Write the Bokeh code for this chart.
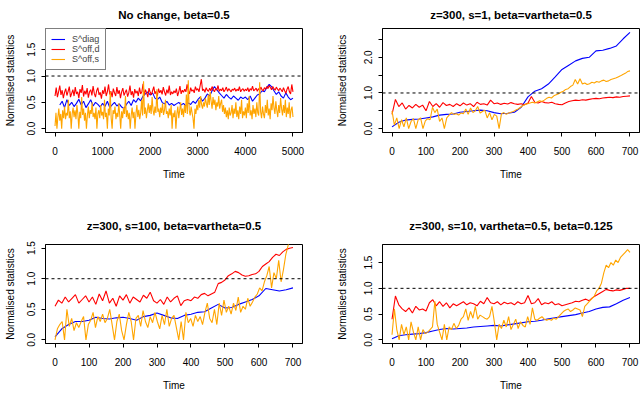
import numpy as np
from bokeh.plotting import figure
from bokeh.models import Span, Legend, LegendItem, FixedTicker, Range1d
from bokeh.layouts import gridplot
from bokeh.embed import file_html
from bokeh.resources import INLINE

FONT = "Liberation Sans"
BLUE, RED, ORANGE = "#0000FF", "#FF0000", "#FFA500"

legend_labels = ["S^diag", "S^off,d", "S^off,s"]
titles = ["No change, beta=0.5",
          "z=300, s=1, beta=vartheta=0.5",
          "z=300, s=100, beta=vartheta=0.5",
          "z=300, s=10, vartheta=0.5, beta=0.125"]

# ---------------- Panel 1 (time 0..5000) ----------------
p1_red_step, p1_red_start = 25, 0
p1_red = [0.62,0.78,0.60,0.70,0.82,0.64,0.73,0.58,0.69,0.76,
          0.63,0.71,0.80,0.60,0.67,0.74,0.62,0.79,0.66,0.70,
          0.58,0.75,0.68,0.83,0.61,0.72,0.65,0.77,0.59,0.70,
          0.74,0.63,0.81,0.67,0.60,0.72,0.78,0.64,0.69,0.57,
          0.73,0.66,0.80,0.62,0.70,0.84,0.65,0.71,0.60,0.76,
          0.68,0.62,0.79,0.66,0.73,0.58,0.70,0.77,0.63,0.69,
          0.74,0.61,0.68,0.82,0.64,0.71,0.59,0.75,0.67,0.72,
          0.62,0.78,0.66,0.70,0.85,0.63,0.74,0.68,0.60,0.77,
          0.69,0.64,0.72,0.80,0.66,0.71,0.62,0.76,0.68,0.73,
          0.65,0.79,0.70,0.63,0.74,0.67,0.82,0.64,0.70,0.66,
          0.72,0.68,0.76,0.62,0.70,0.81,0.66,0.73,0.69,0.75,
          0.70,0.84,0.72,0.66,0.78,0.71,0.74,0.68,0.80,0.73,
          0.76,0.70,0.82,0.94,0.72,0.75,0.69,0.78,0.73,0.71,
          0.77,0.72,0.80,0.74,0.70,0.76,0.73,0.82,0.71,0.75,
          0.72,0.78,0.70,0.74,0.79,0.71,0.76,0.73,0.70,0.75,
          0.73,0.77,0.71,0.75,0.72,0.80,0.70,0.74,0.76,0.71,
          0.75,0.72,0.78,0.70,0.76,0.73,0.81,0.72,0.74,0.77,
          0.71,0.76,0.73,0.79,0.74,0.72,0.78,0.75,0.80,0.76,
          0.82,0.78,0.74,0.80,0.76,0.73,0.79,0.75,0.72,0.77,
          0.74,0.70,0.78,0.72,0.67,0.75,0.80,0.70,0.66,0.84,
          0.70]
p1_blue_step, p1_blue_start = 50, 100
p1_blue = [0.45,0.52,0.40,0.55,0.44,0.50,0.42,0.48,
           0.56,0.45,0.52,0.40,0.47,0.55,0.43,0.50,0.46,0.41,
           0.48,0.42,0.52,0.40,0.45,0.50,0.43,0.47,0.41,0.38,
           0.46,0.52,0.44,0.55,0.50,0.58,0.53,0.62,0.66,0.70,
           0.64,0.68,0.58,0.55,0.60,0.50,0.47,0.52,0.45,0.48,
           0.44,0.47,0.50,0.45,0.48,0.43,0.49,0.46,0.52,0.48,
           0.55,0.60,0.52,0.58,0.66,0.62,0.72,0.80,0.74,0.68,
           0.63,0.58,0.65,0.60,0.56,0.62,0.58,0.54,0.60,0.57,
           0.60,0.55,0.62,0.52,0.58,0.64,0.66,0.72,0.70,0.78,
           0.84,0.80,0.72,0.65,0.70,0.62,0.58,0.68,0.60,0.55,
           0.58]
p1_orange_step, p1_orange_start = 20, 0
p1_orange = [0.05,0.30,0.00,0.22,0.38,0.15,0.28,0.00,0.35,0.20,
             0.42,0.18,0.30,0.25,0.55,0.20,0.33,0.00,0.28,0.40,
             0.22,0.35,0.18,0.45,0.28,0.00,0.32,0.20,0.60,0.26,
             0.38,0.15,0.30,0.00,0.25,0.42,0.20,0.35,0.28,0.50,
             0.22,0.30,0.18,0.40,0.00,0.28,0.35,0.20,0.45,0.25,
             0.32,0.18,0.55,0.22,0.30,0.00,0.38,0.25,0.70,0.20,
             0.00,0.35,0.28,0.42,0.18,0.30,0.22,0.48,0.26,0.00,
             0.33,0.20,0.40,0.28,0.62,0.22,0.35,0.18,0.30,0.00,
             0.25,0.40,0.20,0.32,0.00,0.28,0.45,0.22,0.36,0.18,
             0.30,0.55,0.25,0.90,0.28,0.40,0.20,0.35,0.48,0.30,
             0.45,0.28,0.60,0.35,0.25,0.42,0.30,0.75,0.32,0.38,
             0.22,0.40,0.30,0.48,0.26,0.35,0.55,0.28,0.33,0.20,
             0.38,0.25,0.45,0.00,0.30,0.22,0.35,0.00,0.28,0.42,
             0.20,0.35,0.50,0.26,0.38,0.22,0.45,0.30,0.65,0.28,
             0.92,0.35,0.25,0.42,0.30,0.20,0.00,0.38,0.28,0.45,
             0.35,0.55,0.40,0.62,0.45,0.38,0.50,0.42,0.58,0.48,
             0.40,0.65,0.45,0.70,0.52,0.38,0.60,0.45,0.55,0.35,
             0.50,0.42,0.62,0.38,0.48,0.55,0.32,0.45,0.28,0.40,
             0.22,0.35,0.18,0.40,0.25,0.30,0.45,0.20,0.38,0.28,
             0.50,0.22,0.35,0.18,0.42,0.28,0.55,0.20,0.33,0.25,
             0.40,0.20,0.48,0.30,0.62,0.25,0.35,0.18,0.45,0.28,
             0.38,0.22,0.50,0.30,0.25,0.88,0.32,0.20,0.42,0.28,
             0.20,0.45,0.30,0.55,0.25,0.38,0.18,0.48,0.35,0.62,
             0.40,0.28,0.52,0.35,0.22,0.45,0.30,0.58,0.38,0.25,
             0.45,0.30,0.55,0.22,0.40,0.28,0.50,0.20,0.35,0.42,
             0.22]

# ---------------- Panel 2 (time 0..700) ----------------
p2_red = [0.40,0.82,0.62,0.72,0.55,0.65,0.58,0.68,0.60,0.66,
          0.50,0.76,0.62,0.70,0.60,0.73,0.65,0.68,0.62,0.70,
          0.64,0.72,0.66,0.70,0.62,0.74,0.68,0.70,0.66,0.80,
          0.70,0.72,0.68,0.71,0.69,0.73,0.70,0.68,0.70,0.67,
          0.72,0.90,0.74,0.72,0.76,0.73,0.72,0.74,0.70,0.68,
          0.67,0.72,0.76,0.78,0.80,0.79,0.81,0.80,0.82,0.84,
          0.85,0.84,0.86,0.87,0.88,0.87,0.89,0.88,0.90,0.91,
          0.92]
p2_blue = [0.05,0.18,0.24,0.26,0.27,0.30,0.33,0.38,0.40,0.41,
           0.46,0.48,0.50,0.52,0.50,0.45,0.42,0.43,0.46,0.60,
           0.89,1.05,1.12,1.25,1.45,1.66,1.78,1.90,1.97,2.00,
           2.18,2.20,2.25,2.32,2.52,2.70]
p2_orange = [0.50,0.10,0.30,0.00,0.25,0.05,0.30,0.00,0.20,0.28,
             0.00,0.25,0.30,0.00,0.22,0.28,0.25,0.60,0.45,0.55,
             0.20,0.30,0.00,0.30,0.38,0.45,0.40,0.42,0.38,0.44,
             0.42,0.55,0.40,0.58,0.45,0.50,0.62,0.44,0.48,0.52,
             0.30,0.45,0.25,0.40,0.35,0.00,0.42,0.45,0.40,0.44,
             0.46,0.48,0.52,0.55,0.60,0.65,0.68,0.70,0.72,0.74,
             0.72,0.75,0.78,0.76,0.80,0.85,0.88,0.86,0.92,0.95,
             0.98,1.02,1.05,1.10,1.12,1.18,1.22,1.38,1.25,1.40,
             1.25,1.28,1.24,1.26,1.30,1.28,1.32,1.30,1.34,1.36,
             1.32,1.34,1.38,1.40,1.42,1.45,1.48,1.52,1.55,1.60,
             1.62]

# ---------------- Panel 3 ----------------
p3_red = [0.55,0.65,0.60,0.70,0.62,0.68,0.74,0.60,0.66,0.72,
          0.62,0.70,0.58,0.75,0.64,0.80,0.60,0.68,0.55,0.72,
          0.65,0.74,0.60,0.70,0.66,0.62,0.73,0.68,0.78,0.64,
          0.60,0.66,0.58,0.70,0.62,0.68,0.72,0.56,0.64,0.66,
          0.64,0.70,0.68,0.74,0.76,0.72,0.75,0.78,0.92,0.94,
          0.98,1.05,1.08,1.12,1.10,1.06,1.04,1.05,1.07,1.08,
          1.12,1.20,1.24,1.28,1.35,1.40,1.38,1.44,1.48,1.50,
          1.51]
p3_blue = [0.05,0.18,0.25,0.30,0.30,0.32,0.37,0.35,0.34,0.36,
           0.37,0.35,0.32,0.38,0.40,0.44,0.40,0.36,0.35,0.40,
           0.42,0.45,0.46,0.52,0.58,0.52,0.53,0.58,0.62,0.66,
           0.72,0.84,0.82,0.80,0.82,0.85]
p3_orange = [0.00,0.18,0.25,0.30,0.00,0.50,0.22,0.35,0.15,0.28,
             0.20,0.30,0.38,0.00,0.25,0.32,0.45,0.20,0.38,0.30,
             0.42,0.28,0.35,0.50,0.25,0.00,0.30,0.42,0.15,0.00,
             0.25,0.45,0.30,0.00,0.35,0.40,0.22,0.48,0.30,0.20,
             0.38,0.28,0.45,0.30,0.18,0.40,0.25,0.50,0.22,0.35,
             0.40,0.20,0.00,0.30,0.00,0.45,0.28,0.35,0.22,0.40,
             0.30,0.38,0.25,0.45,0.60,0.35,0.28,0.50,0.25,0.60,
             0.40,0.65,0.45,0.55,0.42,0.60,0.48,0.70,0.45,0.55,
             0.50,0.68,0.55,0.62,0.70,0.75,0.85,0.80,0.95,1.05,
             1.20,0.85,1.10,1.00,1.30,0.95,1.15,1.40,1.55,1.70,
             1.75]

# ---------------- Panel 4 ----------------
p4_red = [0.40,0.85,0.68,0.60,0.55,0.62,0.52,0.65,0.58,0.60,
          0.56,0.72,0.78,0.66,0.74,0.65,0.72,0.62,0.70,0.66,
          0.70,0.74,0.68,0.72,0.70,0.66,0.75,0.70,0.82,0.72,
          0.70,0.74,0.68,0.73,0.70,0.72,0.68,0.74,0.70,0.72,
          0.86,0.70,0.72,0.80,0.68,0.72,0.70,0.74,0.68,0.70,
          0.66,0.68,0.70,0.72,0.75,0.74,0.77,0.79,0.76,0.82,
          0.86,0.90,0.94,0.98,0.96,0.95,0.97,0.96,0.98,1.00,
          1.00]
p4_blue = [0.02,0.08,0.10,0.11,0.12,0.14,0.17,0.20,0.22,0.21,
           0.22,0.23,0.25,0.26,0.27,0.28,0.27,0.29,0.31,0.33,
           0.35,0.36,0.38,0.41,0.43,0.45,0.47,0.49,0.52,0.55,
           0.60,0.63,0.64,0.70,0.77,0.82]
p4_orange = [0.10,0.60,0.20,0.00,0.30,0.10,0.25,0.00,0.35,0.15,
             0.00,0.25,0.00,0.20,0.12,0.15,0.20,0.25,0.75,0.30,
             0.15,0.00,0.30,0.00,0.25,0.20,0.32,0.22,0.28,0.40,
             0.45,0.60,0.38,0.55,0.42,0.65,0.40,0.48,0.45,0.42,
             0.40,0.45,0.65,0.35,0.00,0.30,0.22,0.38,0.25,0.45,
             0.20,0.30,0.40,0.22,0.35,0.28,0.25,0.45,0.30,0.62,
             0.40,0.38,0.42,0.45,0.40,0.38,0.40,0.38,0.42,0.40,
             0.45,0.50,0.55,0.58,0.60,0.55,0.58,0.62,0.60,0.58,
             0.45,0.65,0.70,0.75,0.80,0.85,0.95,1.00,1.10,1.30,
             1.45,1.40,1.50,1.45,1.55,1.50,1.60,1.65,1.70,1.75,
             1.70]

short_red_step, short_blue_step, short_orange_step = 10, 20, 7

xmax = [5000, 700, 700, 700]
xticks_list = [[0, 1000, 2000, 3000, 4000, 5000],
               [0, 100, 200, 300, 400, 500, 600, 700],
               [0, 100, 200, 300, 400, 500, 600, 700],
               [0, 100, 200, 300, 400, 500, 600, 700]]
ytop = [1.83, 2.7, 1.5, 1.78]
yticks_list = [[0.0, 0.5, 1.0, 1.5],
               [0.0, 0.5, 1.0, 1.5, 2.0, 2.5],
               [0.0, 0.5, 1.0, 1.5],
               [0.0, 0.5, 1.0, 1.5]]
ylabels_list = [["0.0", "0.5", "1.0", "1.5"],
                ["0.0", "", "1.0", "", "2.0", ""],
                ["0.0", "0.5", "1.0", "1.5"],
                ["0.0", "0.5", "1.0", "1.5"]]


def times(vals, step, start=0):
    return (start + np.arange(len(vals)) * step).tolist()


series = [
    [(times(p1_blue, p1_blue_step, p1_blue_start), p1_blue, BLUE),
     (times(p1_red, p1_red_step, p1_red_start), p1_red, RED),
     (times(p1_orange, p1_orange_step, p1_orange_start), p1_orange, ORANGE)],
    [(times(p2_blue, short_blue_step), p2_blue, BLUE),
     (times(p2_red, short_red_step), p2_red, RED),
     (times(p2_orange, short_orange_step), p2_orange, ORANGE)],
    [(times(p3_blue, short_blue_step), p3_blue, BLUE),
     (times(p3_red, short_red_step), p3_red, RED),
     (times(p3_orange, short_orange_step), p3_orange, ORANGE)],
    [(times(p4_blue, short_blue_step), p4_blue, BLUE),
     (times(p4_red, short_red_step), p4_red, RED),
     (times(p4_orange, short_orange_step), p4_orange, ORANGE)],
]

# layout: (width, height, left, right, top, bottom, ylabel standoff, title standoff)
geom = [(320, 196, 45, 18, 28, 64, 9, 12),
        (320, 196, 62, 1, 28, 64, 14, 12),
        (320, 197, 45, 18, 48, 45, 9, 21),
        (320, 197, 62, 1, 48, 45, 14, 21)]


def make_panel(i):
    w, h, bl, br, bt, bb, ysd, tsd = geom[i]
    xe = 0.04 * xmax[i]
    ye = 0.04 * ytop[i]
    p = figure(width=w, height=h, output_backend="svg", toolbar_location=None,
               x_range=Range1d(-xe, xmax[i] + xe), y_range=Range1d(-ye, ytop[i] + ye),
               min_border_left=bl, min_border_right=br, min_border_top=bt,
               min_border_bottom=bb, background_fill_color="white",
               border_fill_color="white", x_axis_label="Time",
               y_axis_label="Normalised statistics")
    p.title.text = titles[i]
    p.title.align = "center"
    p.title.vertical_align = "top"
    p.title.text_font = FONT
    p.title.text_font_size = "11.5px"
    p.title.text_font_style = "bold"
    p.title.text_color = "black"
    p.title.standoff = tsd
    p.outline_line_color = "black"
    p.outline_line_alpha = 1
    p.outline_line_width = 1
    p.xgrid.visible = False
    p.ygrid.visible = False
    for ax in (p.xaxis[0], p.yaxis[0]):
        ax.axis_line_color = "black"
        ax.major_tick_line_color = "black"
        ax.minor_tick_line_color = None
        ax.major_tick_in = 0
        ax.major_tick_out = 4
        ax.major_label_text_font = FONT
        ax.major_label_text_font_size = "10px"
        ax.major_label_text_color = "black"
        ax.axis_label_text_font = FONT
        ax.axis_label_text_font_size = "10px"
        ax.axis_label_text_font_style = "normal"
        ax.axis_label_text_color = "black"
    p.xaxis.ticker = FixedTicker(ticks=xticks_list[i])
    p.xaxis.major_label_standoff = 10
    p.xaxis.axis_label_standoff = 11
    p.yaxis.ticker = FixedTicker(ticks=yticks_list[i])
    p.yaxis.major_label_overrides = {t: l for t, l in zip(yticks_list[i], ylabels_list[i])}
    p.yaxis.major_label_orientation = "vertical"
    p.yaxis.major_label_standoff = 6
    p.yaxis.axis_label_standoff = ysd

    rends = []
    for xs, ys, c in series[i]:
        rends.append(p.line(xs, ys, line_color=c, line_width=1.1))
    p.add_layout(Span(location=1.0, dimension="width", line_color="black",
                      line_dash="3 3", line_width=1))

    if i == 0:
        items = [LegendItem(label=lab, renderers=[r]) for lab, r in zip(legend_labels, rends)]
        leg = Legend(items=items, location="top_left", margin=0, padding=5,
                     spacing=0, label_height=10, glyph_height=10, glyph_width=14,
                     label_standoff=7, label_text_font=FONT,
                     label_text_font_size="9px", border_line_color="black",
                     border_line_width=1, background_fill_alpha=1)
        p.add_layout(leg)
    return p


plots = [make_panel(i) for i in range(4)]
grid = gridplot([[plots[0], plots[1]], [plots[2], plots[3]]], toolbar_location=None)

open("out.html", "w").write(file_html(grid, INLINE))
